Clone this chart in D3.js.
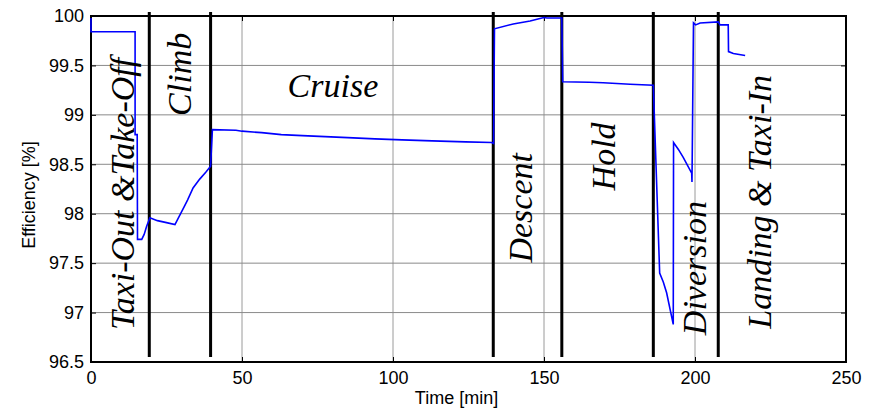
<!DOCTYPE html>
<html>
<head>
<meta charset="utf-8">
<script src="https://cdn.jsdelivr.net/npm/d3@7"></script>
<style>
  body { margin: 0; background: #fff; }
  text { font-family: "Liberation Sans", Arial, sans-serif; }
  .phase { font-family: "Liberation Serif", "Times New Roman", serif; font-style: italic; }
</style>
</head>
<body>
<div id="chart"></div>
<script>
// efficiency over a flight profile
const time = [0, 0, 14.6, 14.6, 15.3, 15.4, 16.8, 17.6, 18.4, 19.5, 22, 25, 27.8, 29.5, 31, 32, 33.8, 36, 38, 39.6,
  40.2, 48, 50, 56.5, 63, 70, 77.5, 85, 94, 103, 113, 124, 132.7, 133.3,
  133.6, 139.8, 145.4, 148, 150, 151, 155.9,
  156.2, 165, 169.6, 178.5, 186.2,
  188.3, 189.5, 190.6, 192.8, 192.9, 194.5, 196.1, 198.9, 199.0, 199.5, 200.2, 201.7, 207.7,
  208.3, 211, 211.1, 212.7, 216.6];
const efficiency = [99.98, 99.84, 99.84, 98.80, 98.80, 97.74, 97.74, 97.79, 97.87, 97.96, 97.93, 97.91, 97.89, 97.99, 98.08, 98.14, 98.26, 98.35, 98.42, 98.48,
  98.85, 98.845, 98.835, 98.82, 98.80, 98.79, 98.78, 98.77, 98.757, 98.747, 98.737, 98.727, 98.72, 98.71,
  99.87, 99.92, 99.95, 99.97, 99.985, 99.98, 99.98,
  99.335, 99.33, 99.325, 99.31, 99.30,
  97.40, 97.31, 97.20, 96.88, 98.72, 98.65, 98.57, 98.41, 98.32, 99.93, 99.91, 99.93, 99.94,
  99.91, 99.91, 99.64, 99.62, 99.60];

// phase boundaries [min]
const boundaries = [19.3, 39.6, 133.2, 155.9, 186.2, 207.7];

// phase names, anchor time / efficiency, rotated or not
const phaseNames = ["Taxi-Out &Take-Off", "Climb", "Cruise", "Descent", "Hold", "Diversion", "Landing & Taxi-In"];
const phaseT = [14.2, 33.1, 80.1, 146.0, 173.5, 203.6, 225.3];
const phaseE = [98.2, 99.41, 99.18, 98.06, 98.58, 97.45, 98.12];
const phaseVertical = [true, true, false, true, true, true, true];

const xTicks = [0, 50, 100, 150, 200, 250];
const yTicks = [96.5, 97, 97.5, 98, 98.5, 99, 99.5, 100];

const width = 879;
const height = 408;
const margin = { top: 16, right: 33, bottom: 46, left: 91 };

const svg = d3.select("#chart")
  .append("svg")
  .attr("width", width)
  .attr("height", height);

const x = d3.scaleLinear().domain([0, 250]).range([margin.left, width - margin.right]);
const y = d3.scaleLinear().domain([96.5, 100]).range([height - margin.bottom, margin.top]);

// grid
svg.append("g")
  .selectAll("line")
  .data(xTicks)
  .enter()
  .append("line")
  .attr("x1", d => x(d)).attr("x2", d => x(d))
  .attr("y1", y(96.5)).attr("y2", y(100))
  .attr("stroke", "#9a9a9a")
  .attr("stroke-width", 1);

svg.append("g")
  .selectAll("line")
  .data(yTicks)
  .enter()
  .append("line")
  .attr("x1", x(0)).attr("x2", x(250))
  .attr("y1", d => y(d)).attr("y2", d => y(d))
  .attr("stroke", "#8a8a8a")
  .attr("stroke-width", 1);

// axes with inward ticks on all sides
svg.append("g")
  .attr("transform", `translate(0,${y(96.5)})`)
  .call(d3.axisBottom(x).tickValues(xTicks).tickSize(-5).tickPadding(9))
  .call(g => g.select(".domain").remove());
svg.append("g")
  .attr("transform", `translate(0,${y(100)})`)
  .call(d3.axisTop(x).tickValues(xTicks).tickSize(-5).tickFormat(""))
  .call(g => g.select(".domain").remove());
svg.append("g")
  .attr("transform", `translate(${x(0)},0)`)
  .call(d3.axisLeft(y).tickValues(yTicks).tickSize(-5).tickPadding(7).tickFormat(d3.format("")))
  .call(g => g.select(".domain").remove());
svg.append("g")
  .attr("transform", `translate(${x(250)},0)`)
  .call(d3.axisRight(y).tickValues(yTicks).tickSize(-5).tickFormat(""))
  .call(g => g.select(".domain").remove());

svg.selectAll(".tick text")
  .attr("font-size", "18px")
  .attr("fill", "#000");
svg.selectAll(".tick line").attr("stroke", "#000");

// frame
svg.append("rect")
  .attr("x", x(0)).attr("y", y(100))
  .attr("width", x(250) - x(0))
  .attr("height", y(96.5) - y(100))
  .attr("fill", "none")
  .attr("stroke", "#000")
  .attr("stroke-width", 2);

// phase boundary lines
svg.append("g")
  .selectAll("line")
  .data(boundaries)
  .enter()
  .append("line")
  .attr("x1", d => x(d)).attr("x2", d => x(d))
  .attr("y1", y(100) - 4).attr("y2", y(96.5) - 5)
  .attr("stroke", "#000")
  .attr("stroke-width", 3);

// efficiency line
const line = d3.line()
  .x((d, i) => x(time[i]))
  .y(d => y(d));

svg.append("path")
  .datum(efficiency)
  .attr("fill", "none")
  .attr("stroke", "#0000ff")
  .attr("stroke-width", 1.6)
  .attr("d", line);

// phase labels
svg.append("g")
  .selectAll("text")
  .data(phaseNames)
  .enter()
  .append("text")
  .attr("class", "phase")
  .attr("text-anchor", "middle")
  .attr("font-size", "34px")
  .attr("fill", "#000")
  .attr("transform", (d, i) => `translate(${x(phaseT[i])},${y(phaseE[i])})` + (phaseVertical[i] ? " rotate(-90)" : ""))
  .text(d => d);

// axis labels
svg.append("text")
  .attr("x", x(125) - 12)
  .attr("y", 404)
  .attr("text-anchor", "middle")
  .attr("font-size", "18px")
  .text("Time [min]");

svg.append("text")
  .attr("transform", `translate(35,${y(98.25) + 6}) rotate(-90)`)
  .attr("text-anchor", "middle")
  .attr("font-size", "18px")
  .text("Efficiency [%]");
</script>
</body>
</html>
